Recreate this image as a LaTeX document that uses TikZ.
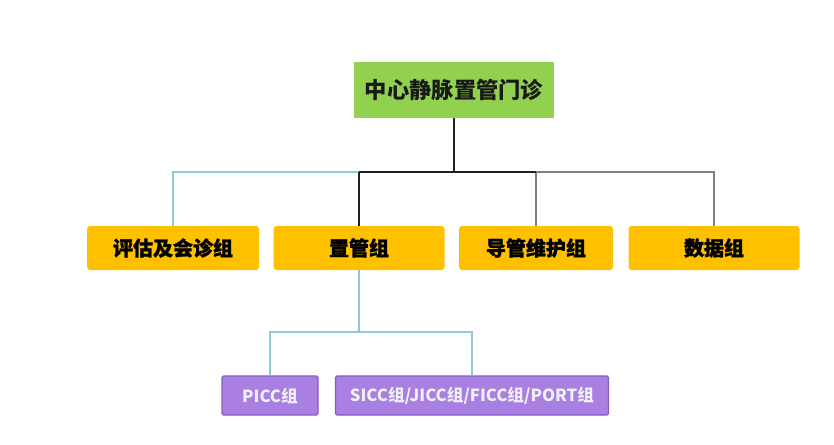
\documentclass[tikz,border=0pt]{standalone}
\usepackage{fontspec}
\newfontfamily\cjk{Noto Sans CJK SC}
\newfontfamily\cjkheavy{Noto Sans CJK SC}[BoldFeatures={FakeBold=1.2}]
\definecolor{topgreen}{HTML}{92D050}
\definecolor{boxorange}{HTML}{FFC000}
\definecolor{boxpurple}{HTML}{A97FE2}
\definecolor{purpleedge}{HTML}{8A5CC9}
\definecolor{lineblue}{HTML}{92C7D8}
\definecolor{linegray}{HTML}{808080}
\definecolor{lineblack}{HTML}{202020}
\definecolor{purpletext}{HTML}{EEF0F6}
\tikzset{
  topbox/.style={fill=topgreen, draw=none, minimum width=200pt, minimum height=56pt, inner sep=0pt,
    font=\cjk\bfseries\fontsize{22.3}{26}\selectfont, text=black!90},
  orangebox/.style={fill=boxorange, draw=none, rounded corners=3pt, minimum height=44pt, inner sep=0pt,
    font=\cjkheavy\bfseries\fontsize{20}{24}\selectfont, text=black},
  purplebox/.style={fill=boxpurple, draw=purpleedge, line width=1.2pt, rounded corners=1.5pt, minimum height=39pt, inner sep=0pt,
    font=\cjk\bfseries\fontsize{16.7}{20}\selectfont, text=purpletext},
  blackline/.style={draw=lineblack, line width=2pt},
  grayline/.style={draw=linegray, line width=1.4pt},
  blueline/.style={draw=lineblue, line width=1.6pt},
}
\begin{document}
\begin{tikzpicture}[x=1pt,y=-1pt]
\useasboundingbox[fill=white] (0,0) rectangle (834,444);
\node[topbox] (top) at (454,90) {中心静脉置管门诊};
\node[orangebox, minimum width=172pt] (b1) at (173,248) {评估及会诊组};
\node[orangebox, minimum width=171pt] (b2) at (359,248) {置管组};
\node[orangebox, minimum width=154pt] (b3) at (536,248) {导管维护组};
\node[orangebox, minimum width=171pt] (b4) at (714,248) {数据组};
\node[purplebox, minimum width=96pt] (p1) at (270,395.5) {PICC组};
\node[purplebox, minimum width=273pt] (p2) at (472,395.5) {SICC组/JICC组/FICC组/PORT组};
\coordinate (j1) at (454,172);
\coordinate (j2) at (359,332);
% light blue to first box
\draw[blueline] (b2.north |- j1) -| (b1.north);
% gray to third and fourth
\draw[grayline] (j1 -| b3.north) -| (b4.north);
\draw[grayline] (j1 -| b3.north) -- (b3.north);
% black trunk
\draw[blackline] (top.south) -- (j1);
\draw[blackline] (b2.north |- j1) -- (j1 -| b3.north);
\draw[blackline] (b2.north) -- (b2.north |- j1);
% lower branch
\draw[blueline] (b2.south) -- (j2);
\draw[blueline] (j2) -| (p1.north);
\draw[blueline] (j2) -| (p2.north);
\end{tikzpicture}
\end{document}
